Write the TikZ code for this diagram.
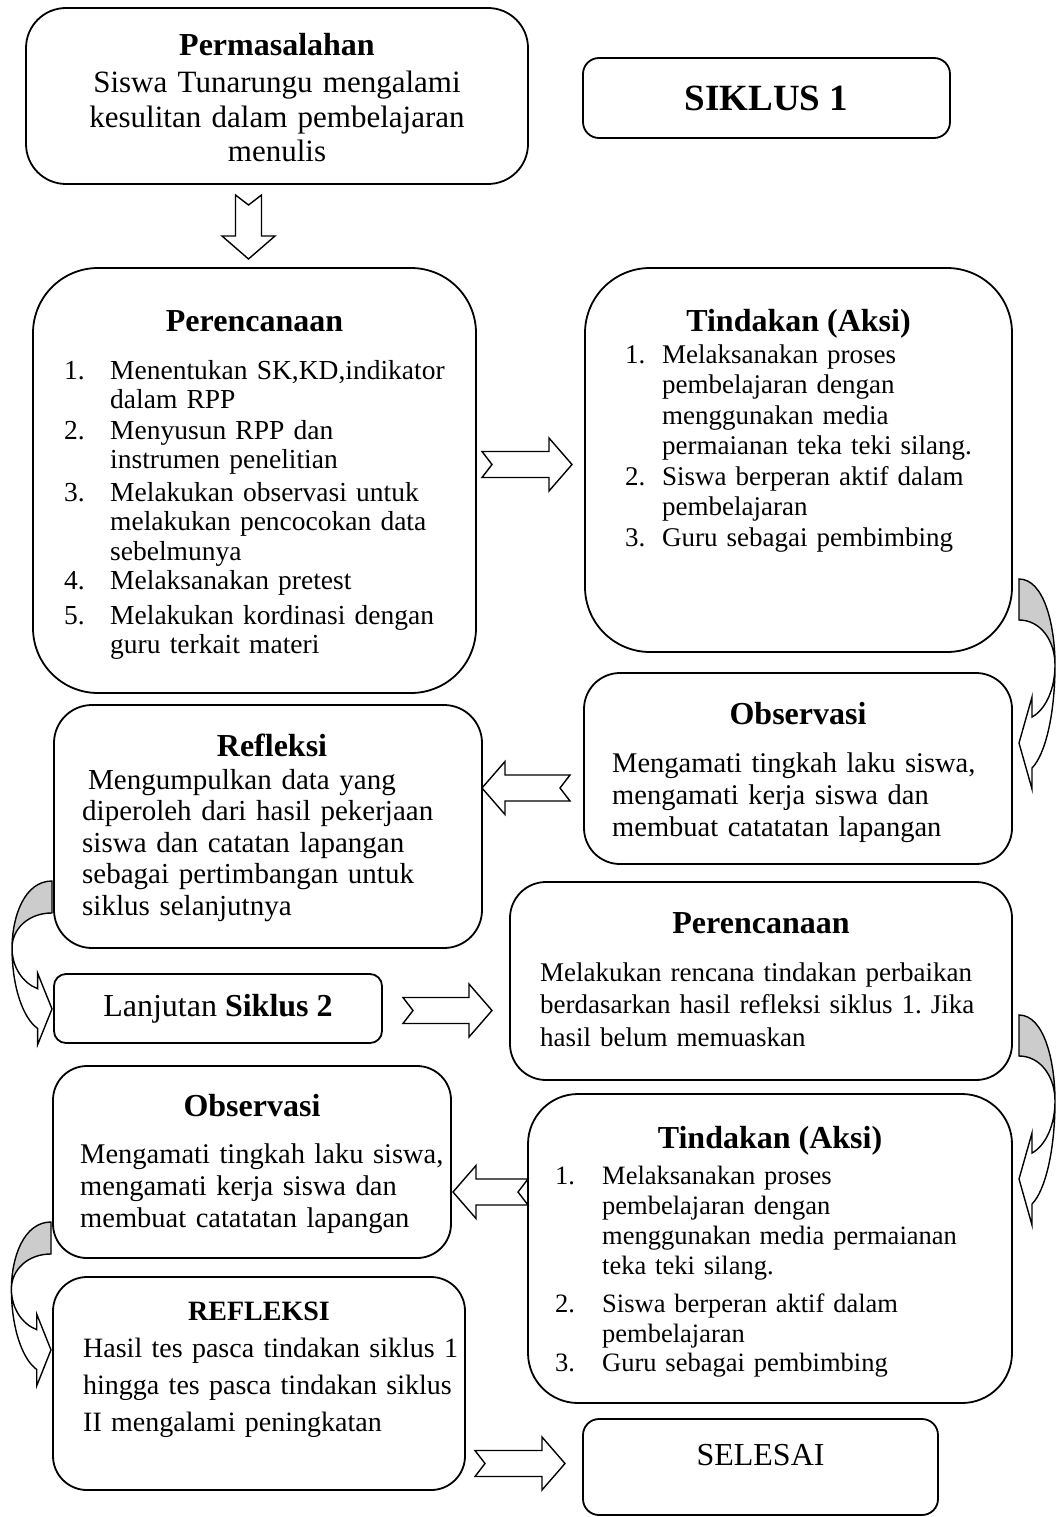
\documentclass[tikz,border=0pt]{standalone}
\usepackage{fontspec}
\setmainfont{Liberation Serif}
\frenchspacing
\newcommand\rbox[6]{\node[box, rounded corners=#6, minimum width={#4-#2}, minimum height={#5-#3}] (#1) at ({(#2+#4)/2},{(#3+#5)/2}) {};}
\newcommand\blockarrow[4]{\draw[arr, fill=white, shift={(#1,#2)}, rotate=#4] (0,-13) -- ({#3-23},-13) -- ({#3-23},-26.5) -- (#3,0) -- ({#3-23},26.5) -- ({#3-23},13) -- (0,13) -- (10,0) -- cycle;}
\newcommand\curvearrow[4]{%
\begin{scope}[shift={(#1,#2)}, xscale=#3, yscale=#4]
 \filldraw[arr, fill=gray!40] (0,0) .. controls (25,0) and (36,46) .. (36,86) .. controls (36,61) and (21,41) .. (0,41) -- cycle;
 \filldraw[arr, fill=white] (36,86) .. controls (36,111) and (26,131) .. (13,138) -- (13,118) -- (0,164) -- (13,210) -- (13,189) .. controls (26,176) and (36,136) .. (36,86) -- cycle;
\end{scope}}
\begin{document}
\begin{tikzpicture}[x=1pt,y=-1pt,
  box/.style={draw, line width=1.8pt, inner sep=0pt, outer sep=0pt},
  arr/.style={draw, line width=1.4pt, line join=miter},
  ttl/.style={font=\fontsize{32}{36}\selectfont\bfseries, anchor=base, inner sep=0pt},
  body/.style={font=\fontsize{28.5}{32}\selectfont, anchor=base west, inner sep=0pt, align=left, text width=520pt},
  item/.style={font=\fontsize{27}{30.5}\selectfont, anchor=base west, inner sep=0pt, align=left, text width=520pt},
  pitem/.style={item, font=\fontsize{27.5}{29.5}\selectfont},
  titem/.style={item, font=\fontsize{26.5}{30}\selectfont},
  cbody/.style={font=\fontsize{31}{34.5}\selectfont, anchor=base, inner sep=0pt, align=center, text width=480pt},
]
\useasboundingbox (0,0) rectangle (1055,1517);
\fill[white] (0,0) rectangle (1055,1517);

% boxes
\rbox{P0}{26}{8}{528}{184}{40pt}
\rbox{S1}{583}{58}{950}{138}{16pt}
\rbox{PR1}{33}{268}{476}{693}{65pt}
\rbox{T1}{585}{268}{1012}{652}{65pt}
\rbox{O1}{584}{673}{1012}{864}{36pt}
\rbox{R1}{54}{705}{482}{948}{38pt}
\rbox{L2}{54}{974}{382}{1043}{12pt}
\rbox{PR2}{510}{882}{1012}{1080}{36pt}
\rbox{O2}{53}{1066}{451}{1258}{34pt}
\rbox{T2}{528}{1094}{1012}{1403}{50pt}
\rbox{R2}{53}{1277}{465}{1490}{34pt}
\rbox{SE}{583}{1419}{938}{1515}{16pt}

% texts
\node[ttl] (p0t) at (277,56) {Permasalahan};
\node[cbody] (p0b) at (277,93) {Siswa Tunarungu mengalami\\kesulitan dalam pembelajaran\\menulis};
\node[font=\fontsize{37}{40}\selectfont\bfseries, anchor=base, inner sep=0pt] (s1t) at (766.5,111) {SIKLUS 1};

\node[ttl] (pr1t) at (254.5,331) {Perencanaan};
\node[pitem] (pr1n1) at (64,379) {1.};
\node[pitem] (pr1i1) at (110,379) {Menentukan SK,KD,indikator\\dalam RPP};
\node[pitem] (pr1n2) at (64,439) {2.};
\node[pitem] (pr1i2) at (110,439) {Menyusun RPP dan\\instrumen penelitian};
\node[pitem] (pr1n3) at (64,501) {3.};
\node[pitem] (pr1i3) at (110,501) {Melakukan observasi untuk\\melakukan pencocokan data\\sebelmunya};
\node[pitem] (pr1n4) at (64,589) {4.};
\node[pitem] (pr1i4) at (110,589) {Melaksanakan pretest};
\node[pitem] (pr1n5) at (64,624) {5.};
\node[pitem] (pr1i5) at (110,624) {Melakukan kordinasi dengan\\guru terkait materi};

\node[ttl] (t1t) at (798.5,331) {Tindakan (Aksi)};
\node[item] (t1n1) at (625,363) {1.};
\node[item] (t1i1) at (662,363) {Melaksanakan proses\\pembelajaran dengan\\menggunakan media\\permaianan teka teki silang.};
\node[item] (t1n2) at (625,485) {2.};
\node[item] (t1i2) at (662,485) {Siswa berperan aktif dalam\\pembelajaran};
\node[item] (t1n3) at (625,546) {3.};
\node[item] (t1i3) at (662,546) {Guru sebagai pembimbing};

\node[ttl] (o1t) at (798,724) {Observasi};
\node[body] (o1b) at (612,772) {Mengamati tingkah laku siswa,\\mengamati kerja siswa dan\\membuat catatatan lapangan};

\node[ttl] (r1t) at (272,756) {Refleksi};
\node[body, font=\fontsize{29}{31.5}\selectfont] (r1b) at (82,789) {\hspace*{6pt}Mengumpulkan data yang\\diperoleh dari hasil pekerjaan\\siswa dan catatan lapangan\\sebagai pertimbangan untuk\\siklus selanjutnya};

\node[font=\fontsize{32}{36}\selectfont, anchor=base, inner sep=0pt] (l2t) at (218,1016) {Lanjutan \textbf{Siklus 2}};

\node[ttl] (pr2t) at (761,933) {Perencanaan};
\node[body, font=\fontsize{27}{32.5}\selectfont] (pr2b) at (540,981) {Melakukan rencana tindakan perbaikan\\berdasarkan hasil refleksi siklus 1. Jika\\hasil belum memuaskan};

\node[ttl] (o2t) at (252,1116) {Observasi};
\node[body] (o2b) at (80,1163) {Mengamati tingkah laku siswa,\\mengamati kerja siswa dan\\membuat catatatan lapangan};

\node[ttl] (t2t) at (770,1148) {Tindakan (Aksi)};
\node[titem] (t2n1) at (555,1184) {1.};
\node[titem] (t2i1) at (602,1184) {Melaksanakan proses\\pembelajaran dengan\\menggunakan media permaianan\\teka teki silang.};
\node[titem] (t2n2) at (555,1312) {2.};
\node[titem] (t2i2) at (602,1312) {Siswa berperan aktif dalam\\pembelajaran};
\node[titem] (t2n3) at (555,1371) {3.};
\node[titem] (t2i3) at (602,1371) {Guru sebagai pembimbing};

\node[font=\fontsize{28}{32}\selectfont\bfseries, anchor=base, inner sep=0pt] (r2t) at (259,1320) {REFLEKSI};
\node[body, font=\fontsize{28}{37}\selectfont] (r2b) at (83,1357) {Hasil tes pasca tindakan siklus 1\\hingga tes pasca tindakan siklus\\II mengalami peningkatan};

\node[font=\fontsize{32}{36}\selectfont, anchor=base, inner sep=0pt] (set) at (760.5,1465) {SELESAI};

% block arrows
\blockarrow{248.5}{195}{64}{-90}
\blockarrow{482}{464.5}{90}{0}
\blockarrow{570}{788}{88}{180}
\blockarrow{403}{1010.5}{89}{0}
\blockarrow{528}{1192}{75}{180}
\blockarrow{475}{1463.5}{90}{0}

% curved arrows
\curvearrow{1019}{579}{1}{1}
\curvearrow{1019}{1015}{1}{1}
\curvearrow{52}{881}{-1.11}{0.78}
\curvearrow{51}{1222}{-1.1}{0.78}
\end{tikzpicture}
\end{document}
